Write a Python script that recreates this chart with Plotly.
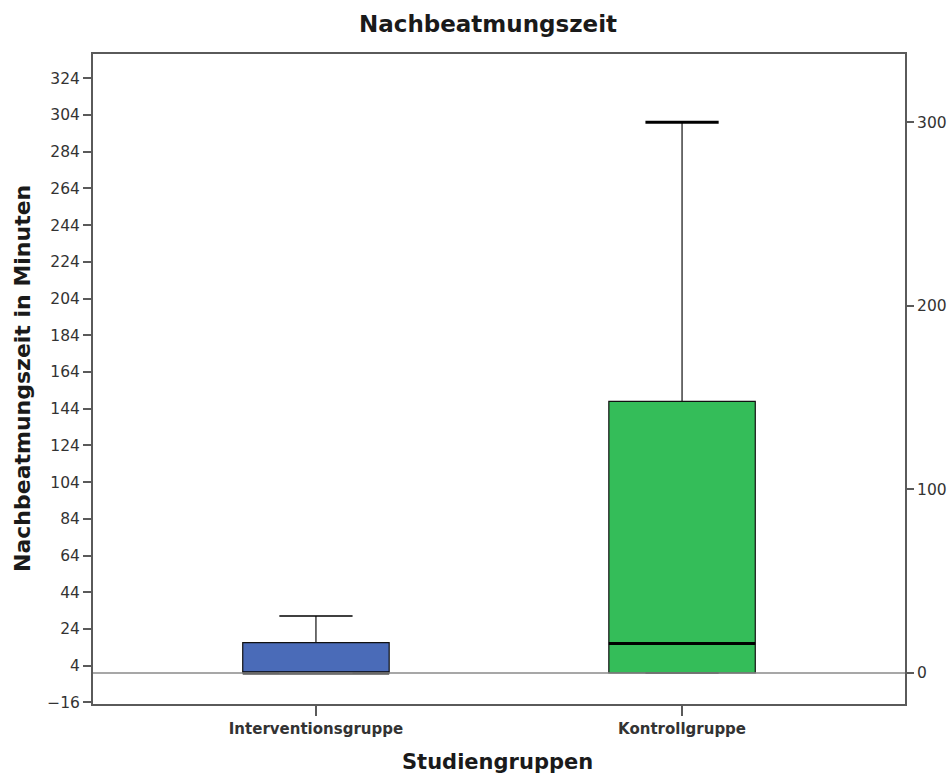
import plotly.graph_objects as go

# Box plot summary per study group (minutes of post-ventilation)
groups = ["Interventionsgruppe", "Kontrollgruppe"]
lower_whisker = [0, 0]
q1 = [0, 0]
median = [0, 16]
q3 = [16.5, 148]
upper_whisker = [31, 300]
fill_colors = ["#4a6bb8", "#34bd59"]
cap_widths = [1.5, 3]

left_ticks = list(range(-16, 325, 20))
right_ticks = [0, 100, 200, 300]
y_range = [-16.9, 337.2]

FONT = "DejaVu Sans"
BOX_W = 0.40
CAP_HALF = 0.10

fig = go.Figure()

# zero reference line across the full width
fig.add_trace(go.Scatter(
    x=[-0.62, 1.62], y=[0, 0], mode="lines",
    line=dict(color="#8a8a8a", width=1.5), yaxis="y2",
    hoverinfo="skip", showlegend=False))

for i, g in enumerate(groups):
    fig.add_trace(go.Box(
        x=[i], q1=[q1[i]], median=[median[i]], q3=[q3[i]],
        lowerfence=[lower_whisker[i]], upperfence=[upper_whisker[i]],
        width=BOX_W, whiskerwidth=0, fillcolor=fill_colors[i],
        line=dict(color="#111111", width=1.2), boxpoints=False,
        showlegend=False, name=g))
    # median bar
    fig.add_trace(go.Scatter(
        x=[i - BOX_W / 2, i + BOX_W / 2], y=[median[i], median[i]],
        mode="lines", line=dict(color="#000000", width=3),
        hoverinfo="skip", showlegend=False))
    # whisker caps
    fig.add_trace(go.Scatter(
        x=[i - CAP_HALF, i + CAP_HALF], y=[upper_whisker[i], upper_whisker[i]],
        mode="lines", line=dict(color="#000000", width=cap_widths[i]),
        hoverinfo="skip", showlegend=False))
    fig.add_trace(go.Scatter(
        x=[i - CAP_HALF, i + CAP_HALF], y=[lower_whisker[i], lower_whisker[i]],
        mode="lines", line=dict(color="#222222", width=1.5),
        hoverinfo="skip", showlegend=False))

axis_line = "#5a5a5a"
title_color = "#1a1a1a"
tick_color = "#333333"

fig.update_layout(
    width=952, height=775,
    margin=dict(l=93, r=47, t=54, b=71, autoexpand=False),
    paper_bgcolor="white", plot_bgcolor="white",
    font=dict(family=FONT, color=tick_color),
    showlegend=False,
    xaxis=dict(
        range=[-0.609, 1.609], tickvals=[0, 1], ticktext=groups,
        automargin=False, showgrid=False, zeroline=False,
        showline=True, linecolor=axis_line, linewidth=2, mirror=True,
        ticks="outside", ticklen=10, tickwidth=1.5, tickcolor=axis_line,
        tickfont=dict(size=15, family=FONT, weight="bold", color=tick_color),
    ),
    yaxis=dict(
        range=y_range, tickvals=left_ticks,
        automargin=False, showgrid=False, zeroline=False,
        showline=True, linecolor=axis_line, linewidth=2, mirror=True,
        ticks="outside", ticklen=8, tickwidth=1.5, tickcolor=axis_line,
        tickfont=dict(size=15.5, color=tick_color),
    ),
    yaxis2=dict(
        range=y_range, tickvals=right_ticks, overlaying="y", side="right",
        automargin=False, showgrid=False, zeroline=False, showline=False,
        ticks="outside", ticklen=8, tickwidth=1.5, tickcolor=axis_line,
        tickfont=dict(size=15.5, color=tick_color),
    ),
    title=dict(text="<b>Nachbeatmungszeit</b>", x=0.4865, xref="paper",
               xanchor="center", y=1 - 24 / 775, yref="container",
               yanchor="middle", font=dict(size=23, color=title_color)),
    annotations=[
        dict(text="<b>Studiengruppen</b>", xref="paper", yref="paper",
             x=(497 - 93) / 812, y=-(762 - 704) / 650,
             xanchor="center", yanchor="middle", showarrow=False,
             font=dict(size=21, color=title_color)),
        dict(text="<b>Nachbeatmungszeit in Minuten</b>", xref="paper",
             yref="paper", x=-(93 - 22) / 812, y=0.5, textangle=-90,
             xanchor="center", yanchor="middle", showarrow=False,
             font=dict(size=22, color=title_color)),
    ],
)

fig.write_html("out.html")
